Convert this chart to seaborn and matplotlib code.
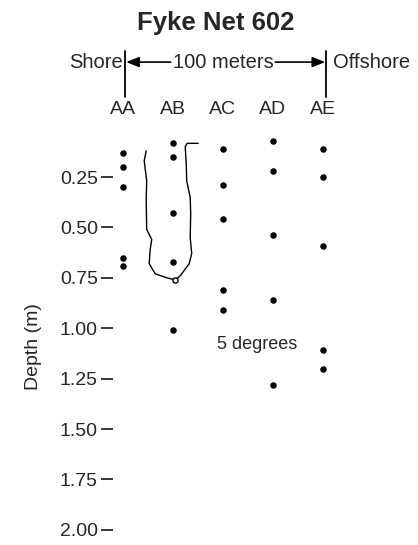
import numpy as np
import pandas as pd
import matplotlib
matplotlib.use("Agg")
import matplotlib.pyplot as plt
import seaborn as sns

# sampling stations along the transect, shore -> offshore
STATIONS = ["AA", "AB", "AC", "AD", "AE"]

# fish depths (m) recorded at each station
depth_aa = [0.13, 0.20, 0.30, 0.65, 0.69]
depth_ab = [0.08, 0.15, 0.43, 0.67, 1.01]
depth_ac = [0.11, 0.29, 0.46, 0.81, 0.91]
depth_ad = [0.07, 0.22, 0.54, 0.86, 1.28]
depth_ae = [0.11, 0.25, 0.59, 1.11, 1.20]

# hand drawn outline round the AB group (station units, depth m)
curve_x = [0.47, 0.43, 0.48, 0.47, 0.48, 0.58, 0.55, 0.53, 0.65, 0.88, 1.05,
           1.15, 1.33, 1.38, 1.35, 1.36, 1.35, 1.28, 1.27, 1.25, 1.29, 1.51]
curve_depth = [0.12, 0.17, 0.27, 0.36, 0.51, 0.56, 0.61, 0.68, 0.73, 0.75, 0.76,
               0.74, 0.68, 0.63, 0.55, 0.43, 0.35, 0.27, 0.18, 0.10, 0.083, 0.083]
open_point = (1.05, 0.76)

DEPTH_TICKS = [0.25, 0.50, 0.75, 1.00, 1.25, 1.50, 1.75, 2.00]


def build_frame():
    """long form table: one row per fish"""
    rows = []
    for i, depths in enumerate([depth_aa, depth_ab, depth_ac, depth_ad, depth_ae]):
        for d in depths:
            rows.append({"station": STATIONS[i], "pos": i, "depth": d})
    return pd.DataFrame(rows)


def main():
    sns.set_style("white")
    plt.rcParams["font.family"] = ["Liberation Sans", "DejaVu Sans"]

    W, H = 418, 545
    fig = plt.figure(figsize=(W / 100, H / 100), dpi=100)

    # axes placed in pixels: depth 0 at y=126.6, 201.6 px per metre, 50 px per station
    left_px, top_px, bottom_px = 112.7, 126.6, 540
    x0, x1 = -0.2, 5.0
    width_px = (x1 - x0) * 50
    ax = fig.add_axes([left_px / W, (H - bottom_px) / H,
                       width_px / W, (bottom_px - top_px) / H])

    df = build_frame()
    sns.scatterplot(data=df, x="pos", y="depth", color="black", s=22,
                    linewidth=0, legend=False, ax=ax, zorder=3)

    # outline drawn around AB
    ax.plot(curve_x, curve_depth, color="black", lw=1.0, zorder=2)
    ax.scatter([open_point[0]], [open_point[1]], s=14, facecolor="white",
               edgecolor="black", linewidth=1, zorder=4)

    ax.text(2.68, 1.08, "5 degrees", fontsize=13, ha="center", va="center")

    ax.set_xlim(x0, x1)
    ax.set_ylim((bottom_px - top_px) / 201.6, 0.0)

    for s in ax.spines.values():
        s.set_visible(False)

    ax.set_yticks(DEPTH_TICKS)
    ax.set_yticklabels(["%.2f" % t for t in DEPTH_TICKS])
    ax.tick_params(axis="y", left=True, length=8.6, width=1.1, pad=2,
                   labelsize=14, color="black")

    ax.xaxis.tick_top()
    ax.set_xticks(range(len(STATIONS)))
    ax.set_xticklabels(STATIONS)
    ax.tick_params(axis="x", top=True, bottom=False, length=0, pad=6,
                   labelsize=14)
    ax.set_xlabel("")

    ax.set_ylabel("Depth (m)", fontsize=14)
    ax.yaxis.set_label_coords(-0.272, 0.467)

    # header: shore / offshore markers and the 100 m span
    row = -0.32
    for xv in [0.05, 4.07]:
        ax.plot([xv, xv], [-0.375, -0.147], color="black", lw=1.3,
                clip_on=False)
    ax.text(0.0, row, "Shore", fontsize=14.5, ha="right", va="center")
    ax.text(4.2, row, "Offshore", fontsize=14.5, ha="left", va="center")
    ax.text(2.01, row, "100 meters", fontsize=14.5, ha="center", va="center")
    arrow = dict(arrowstyle="-|>,head_length=0.55,head_width=0.22",
                 color="black", lw=1.2, mutation_scale=14,
                 shrinkA=0, shrinkB=0)
    ax.annotate("", xy=(0.07, row), xytext=(0.96, row), arrowprops=arrow,
                annotation_clip=False)
    ax.annotate("", xy=(4.05, row), xytext=(3.05, row), arrowprops=arrow,
                annotation_clip=False)

    fig.text(216 / W, 1 - 23 / H, "Fyke Net 602", fontsize=18.5,
             fontweight="bold", ha="center", va="center")

    fig.savefig("out.png", dpi=100)


if __name__ == "__main__":
    main()
